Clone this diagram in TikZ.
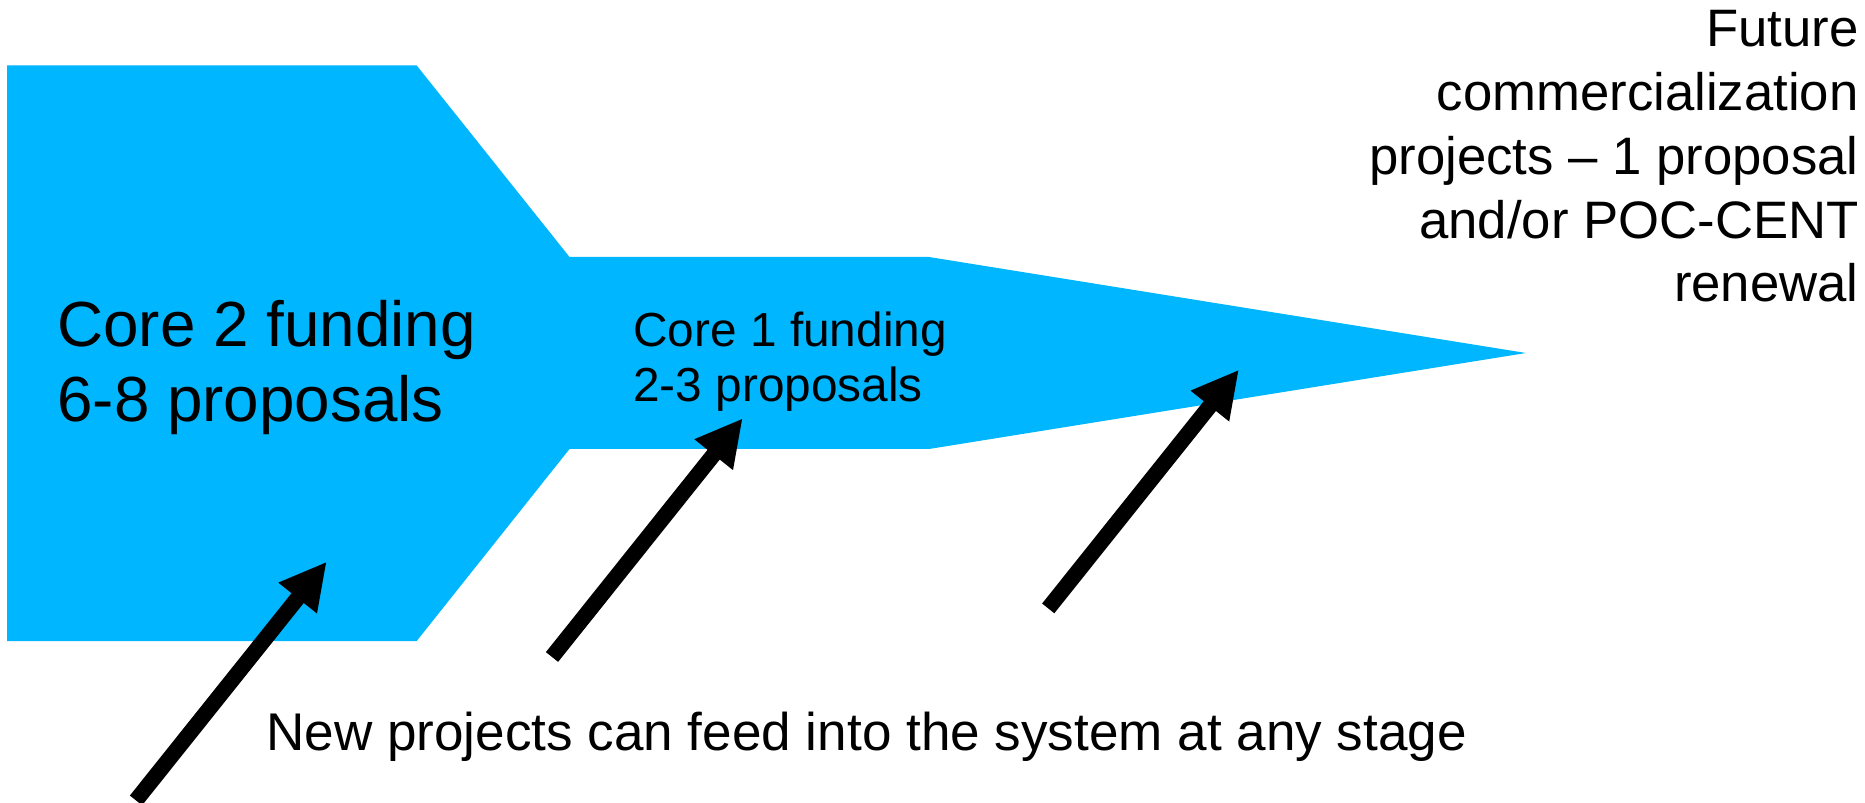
\documentclass[tikz,border=0pt]{standalone}
\usepackage{fontspec}
\setmainfont{Liberation Sans}
\usetikzlibrary{arrows.meta}
\definecolor{funnelblue}{RGB}{0,182,255}
\tikzset{
    stagetext/.style={inner sep=0pt, align=left, anchor=base west},
    feedarrow/.style={line width=8.9pt, black, -{Triangle[length=26.5pt, width=26.1pt]}}
}
\begin{document}
\begin{tikzpicture}[x=0.02cm, y=-0.02cm]
    \useasboundingbox (0,0) rectangle (1865,803);

    % Funnel: core 2 block, core 1 neck, narrowing tip
    \fill[funnelblue] (7,65.5) -- (416.7,65.5) -- (569.5,257) -- (929,257)
        -- (1526,353) -- (929,449) -- (569.5,449) -- (416.7,641) -- (7,641) -- cycle;

    % Stage labels (base anchor sits on the last line)
    \node[stagetext, font={\fontsize{36.3pt}{42.5pt}\selectfont}] (core2) at (57,421)
        {Core 2 funding\\6-8 proposals};
    \node[stagetext, font={\fontsize{27.2pt}{31.4pt}\selectfont}] (core1) at (633,402)
        {Core 1 funding\\2-3 proposals};
    \node[inner sep=0pt, align=right, anchor=base east, font={\fontsize{30pt}{36.3pt}\selectfont}] (future) at (1859,302)
        {Future\\commercialization\\projects -- 1 proposal\\and/or POC-CENT\\renewal};

    % Caption under the funnel
    \node[stagetext, font={\fontsize{30.2pt}{36pt}\selectfont}] (newprojects) at (266,750)
        {New projects can feed into the system at any stage};

    % Arrows feeding into each stage
    \foreach \i/\tx/\ty in {1/326.7/561.7, 2/742.7/418.3, 3/1238.9/369.7} {
            \coordinate (tip\i) at (\tx,\ty);
            \coordinate (tail\i) at (\tx-190.7,\ty+238.7);
            \draw[feedarrow] (tail\i) -- (tip\i);
        }
\end{tikzpicture}
\end{document}
